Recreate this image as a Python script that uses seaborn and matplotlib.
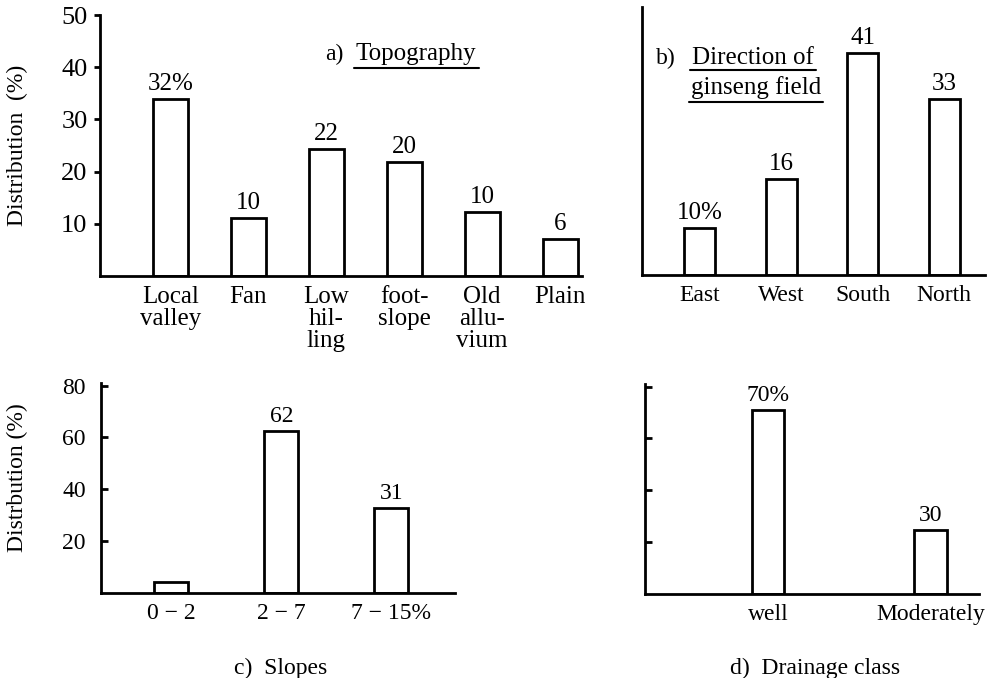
import matplotlib
matplotlib.use("Agg")
import matplotlib.pyplot as plt
import seaborn as sns
import pandas as pd
from matplotlib.lines import Line2D

# ---- data ----
topo_cats = ["Local\nvalley", "Fan", "Low\nhil-\nling", "foot-\nslope", "Old\nallu-\nvium", "Plain"]
topo_vals = [33.9, 11.1, 24.3, 21.9, 12.3, 7.1]
topo_labels = ["32%", "10", "22", "20", "10", "6"]

dir_cats = ["East", "West", "South", "North"]
dir_vals = [8.8, 17.9, 41.4, 32.8]
dir_labels = ["10%", "16", "41", "33"]

slope_cats = ["0 − 2", "2 − 7", "7 − 15%"]
slope_vals = [4.2, 62.3, 32.8]
slope_labels = ["", "62", "31"]

drain_cats = ["well", "Moderately"]
drain_vals = [71.0, 24.6]
drain_labels = ["70%", "30"]

sns.set_theme(style="white")
plt.rcParams["font.family"] = ["Liberation Serif", "DejaVu Serif"]
plt.rcParams["mathtext.default"] = "regular"
for k in ["text.color", "axes.labelcolor", "xtick.color", "ytick.color", "axes.edgecolor"]:
    plt.rcParams[k] = "black"

W, H = 993, 678
fig = plt.figure(figsize=(W / 100, H / 100), dpi=100)


def ax_px(left, right, bottom, top):
    return fig.add_axes([left / W, 1 - bottom / H, (right - left) / W, (bottom - top) / H])


def panel(ax, cats, vals, labels, width, xlim, ylim, lab_fs, tick_fs):
    df = pd.DataFrame({"cat": cats, "val": vals})
    sns.barplot(data=df, x="cat", y="val", order=cats, ax=ax, color="white",
                saturation=1, edgecolor="black", linewidth=2, width=width)
    ax.set_xlim(*xlim)
    ax.set_ylim(*ylim)
    ax.set_xlabel("")
    ax.set_ylabel("")
    for s in ["top", "right"]:
        ax.spines[s].set_visible(False)
    for s in ["left", "bottom"]:
        ax.spines[s].set_color("black")
        ax.spines[s].set_linewidth(2)
    for i, (v, l) in enumerate(zip(vals, labels)):
        if l:
            ax.annotate(l, (i, v), xytext=(0, 3), textcoords="offset points",
                        ha="center", va="bottom", fontsize=lab_fs, color="black")
    ax.tick_params(axis="x", length=0, pad=7, labelsize=tick_fs)
    for t in ax.get_xticklabels():
        t.set_linespacing(1.0)
        t.set_va("top")


# a) Topography
ax_a = ax_px(100, 582, 276, 15)
panel(ax_a, topo_cats, topo_vals, topo_labels, 0.45, (-0.9, 5.28), (0, 50), 18, 18)
ax_a.set_yticks([10, 20, 30, 40, 50])
ax_a.tick_params(axis="y", direction="out", length=4, width=2, left=True,
                 labelsize=19, pad=5)
ax_a.set_ylabel("Distribution  (%)", fontsize=17, va="center")
ax_a.yaxis.set_label_coords(-0.172, 0.5)

# b) Direction
ax_b = ax_px(642, 985, 275, 7)
panel(ax_b, dir_cats, dir_vals, dir_labels, 0.38, (-0.71, 3.5), (0, 50), 18, 17)
ax_b.set_yticks([])

# c) Slopes
ax_c = ax_px(101, 455, 593, 383)
panel(ax_c, slope_cats, slope_vals, slope_labels, 0.31, (-0.64, 2.58), (0, 81), 17, 17)
ax_c.set_yticks([20, 40, 60, 80])
ax_c.tick_params(axis="y", direction="in", length=5, width=2, left=True,
                 labelsize=17, pad=11)
ax_c.set_ylabel("Distrbution (%)", fontsize=17, va="center")
ax_c.yaxis.set_label_coords(-0.237, 0.55)

# d) Drainage class
ax_d = ax_px(645, 979, 594, 384)
panel(ax_d, drain_cats, drain_vals, drain_labels, 0.2, (-0.76, 1.3), (0, 81), 17, 17)
ax_d.set_yticks([20, 40, 60, 80])
ax_d.tick_params(axis="y", direction="in", length=5, width=2, left=True,
                 labelleft=False)


# ---- panel titles ----
def ftext(x, y, s, **kw):
    return fig.text(x / W, 1 - y / H, s, color="black", **kw)


def underline(txt, y):
    fig.canvas.draw()
    bb = txt.get_window_extent()
    fig.add_artist(Line2D([(bb.x0 - 2) / W, (bb.x1 + 2) / W], [1 - y / H, 1 - y / H],
                          transform=fig.transFigure, color="black", lw=1.5))


ftext(325, 60, "a)", fontsize=17, va="baseline")
t_topo = ftext(356, 60, "Topography", fontsize=18, va="baseline")
underline(t_topo, 68)

ftext(656, 64, "b)", fontsize=17, va="baseline")
t_dir = ftext(692, 64, "Direction of", fontsize=18, va="baseline")
t_gin = ftext(691, 94, "ginseng field", fontsize=18, va="baseline")
underline(t_dir, 70)
underline(t_gin, 102)

ftext(281, 668, "c)  Slopes", fontsize=17, ha="center", va="center")
ftext(815, 668, "d)  Drainage class", fontsize=17, ha="center", va="center")

fig.savefig("out.png", dpi=100, facecolor="white")
